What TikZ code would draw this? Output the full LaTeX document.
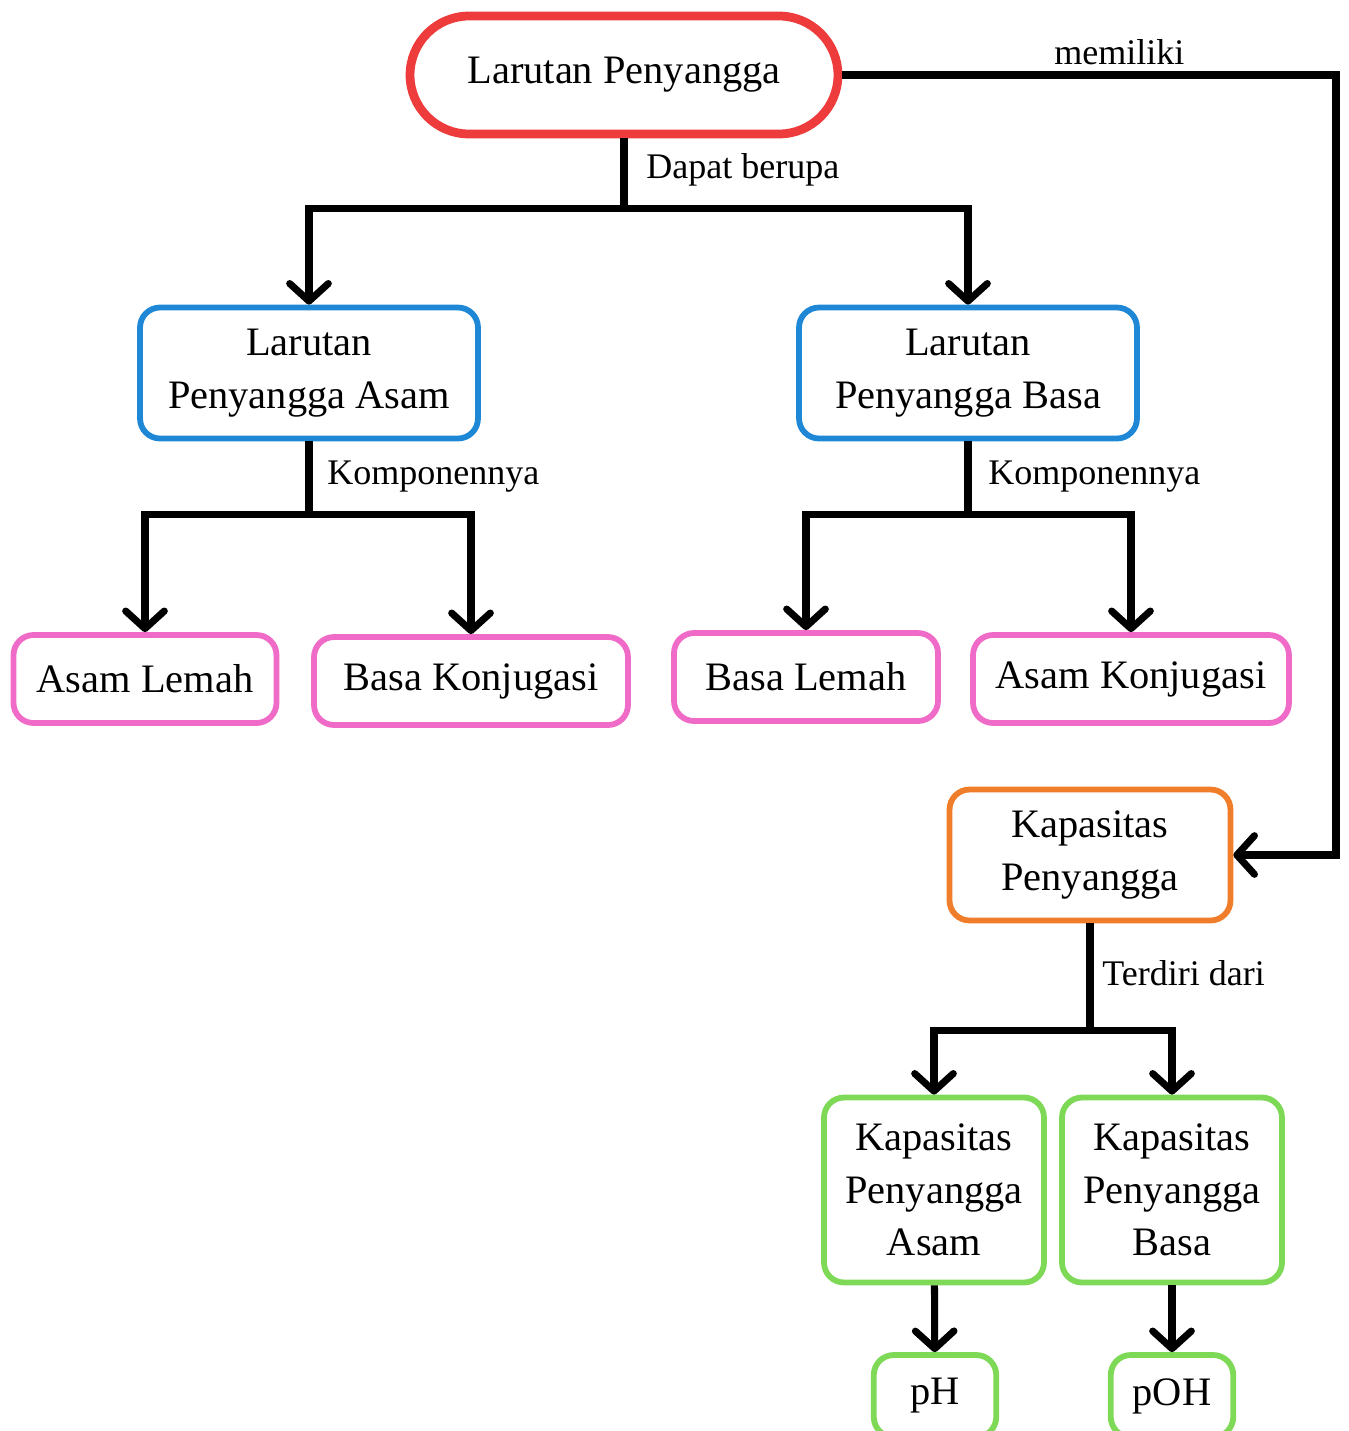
\documentclass[tikz,border=0pt]{standalone}
\usepackage{fontspec}
\setmainfont{Liberation Serif}
\usetikzlibrary{arrows.meta,positioning,shapes}

\definecolor{redline}{HTML}{EE3B3B}
\definecolor{blueline}{HTML}{1E88D6}
\definecolor{pinkline}{HTML}{F06BC7}
\definecolor{orangeline}{HTML}{F07D2A}
\definecolor{greenline}{HTML}{7ED957}

\tikzset{
	box/.style={draw, rounded corners=0.4cm, line width=3.3pt, align=center,
		inner sep=0pt, font=\fontsize{23}{30}\selectfont},
	mainbox/.style={box, draw=redline, line width=5pt, rounded corners=1.18cm,
		minimum width=8.56cm, minimum height=2.36cm},
	typebox/.style={box, draw=blueline, minimum width=6.76cm, minimum height=2.62cm},
	partbox/.style={box, draw=pinkline, minimum height=1.76cm},
	capbox/.style={box, draw=orangeline, minimum width=5.62cm, minimum height=2.62cm},
	kindbox/.style={box, draw=greenline, minimum width=4.40cm, minimum height=3.70cm},
	valbox/.style={box, draw=greenline, minimum width=2.45cm, minimum height=1.64cm},
	link/.style={line width=4pt},
	arrow/.style={line width=4pt, -{Straight Barb[length=10pt,width=22pt,round]}},
	lbl/.style={anchor=base west, inner sep=0pt, font=\fontsize{20.5}{24}\selectfont}
}

\begin{document}
\begin{tikzpicture}[x=0.02cm, y=-0.02cm]
	\useasboundingbox (0,0) rectangle (1349,1431);
	% nodes
	\node[mainbox] (buffer) at (624,75) {Larutan Penyangga};
	\node[typebox] (acidbuf) at (309,373) {Larutan\\Penyangga Asam};
	\node[typebox] (basebuf) at (968,373) {Larutan\\Penyangga Basa};
	\node[partbox, minimum width=5.26cm] (weakacid) at (145,679) {Asam Lemah};
	\node[partbox, minimum width=6.28cm] (conjbase) at (471,681) {Basa Konjugasi};
	\node[partbox, minimum width=5.28cm] (weakbase) at (806,677) {Basa Lemah};
	\node[partbox, minimum width=6.32cm] (conjacid) at (1131,679) {Asam Konjugasi};
	\node[capbox] (capacity) at (1090,855) {Kapasitas\\Penyangga};
	\node[kindbox] (capacid) at (934,1190) {Kapasitas\\Penyangga\\Asam};
	\node[kindbox] (capbase) at (1172,1190) {Kapasitas\\Penyangga\\Basa};
	\node[valbox] (ph) at (935,1396) {pH};
	\node[valbox] (poh) at (1172,1396) {pOH};
	% connectors
	\draw[link] (buffer.south) -- ++(0,70) coordinate (split1);
	\draw[arrow] (split1) -| (acidbuf.north);
	\draw[arrow] (split1) -| (basebuf.north);
	\draw[link] (acidbuf.south) -- ++(0,73) coordinate (split2);
	\draw[arrow] (split2) -| (weakacid.north);
	\draw[arrow] (split2) -| (conjbase.north);
	\draw[link] (basebuf.south) -- ++(0,73) coordinate (split3);
	\draw[arrow] (split3) -| (weakbase.north);
	\draw[arrow] (split3) -| (conjacid.north);
	\coordinate (bend) at (1336,0);
	\draw[arrow] (buffer.east) -- (buffer.east -| bend) |- (capacity.east);
	\draw[link] (capacity.south) -- ++(0,107) coordinate (split4);
	\draw[arrow] (split4) -| (capacid.north);
	\draw[arrow] (split4) -| (capbase.north);
	\draw[arrow] (capacid) -- (ph);
	\draw[arrow] (capbase) -- (poh);
	% labels
	\node[lbl] (lblhas) at (1054,64) {memiliki};
	\node[lbl] (lblform) at (646,178) {Dapat berupa};
	\node[lbl] (lblcompa) at (327,484) {Komponennya};
	\node[lbl] (lblcompb) at (988,484) {Komponennya};
	\node[lbl] (lblmade) at (1102,985) {Terdiri dari};
\end{tikzpicture}
\end{document}
